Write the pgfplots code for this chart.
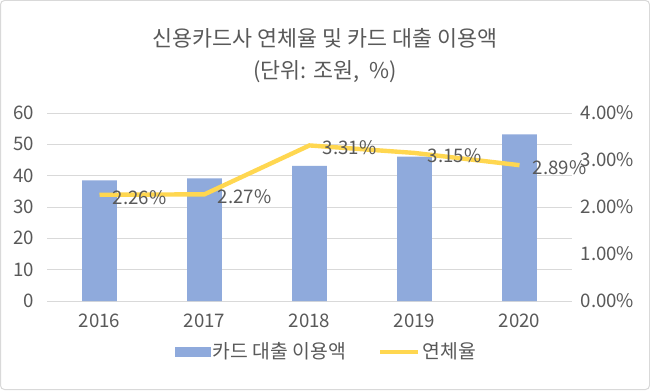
\documentclass[border=0pt]{standalone}
\usepackage{fontspec}
\setmainfont{Noto Sans CJK KR}
\usepackage{pgfplots}
\pgfplotsset{compat=1.18}
\definecolor{barblue}{HTML}{8FAADC}
\definecolor{lineyel}{HTML}{FFD750}
\definecolor{txt}{HTML}{595959}
\definecolor{gridc}{HTML}{D9D9D9}
\begin{document}
\begin{tikzpicture}[x=0.75pt,y=0.75pt]
\draw[gridc, line width=0.75pt, rounded corners=3pt, fill=white] (0.5,0.5) rectangle (649.5,389.5);
\node[txt, font=\fontsize{16.3pt}{19pt}\selectfont] at (325,352) {신용카드사 연체율 및 카드 대출 이용액};
\node[txt, font=\fontsize{16.3pt}{19pt}\selectfont] at (325,318) {(단위: 조원,\ \ \%)};
\begin{axis}[
  at={(35.25pt,66.75pt)}, anchor=south west,
  scale only axis, width=393.75pt, height=141pt,
  xmin=-0.5, xmax=4.5, ymin=0, ymax=60,
  xtick={0,1,2,3,4}, xticklabels={2016,2017,2018,2019,2020},
  ytick={0,10,...,60},
  axis line style={draw=none}, major tick length=0pt,
  ymajorgrids, grid style={gridc, line width=0.75pt},
  tick label style={txt, font=\fontsize{14pt}{16pt}\selectfont},
  /pgf/number format/assume math mode=true,
  yticklabel style={xshift=-6pt},
  xticklabel style={yshift=-6pt},
]
\addplot[ybar, bar width=26pt, fill=barblue, draw=none] coordinates {
  (0,38.5) (1,39.1) (2,43.1) (3,46.1) (4,53.2)};
\end{axis}
\begin{axis}[
  at={(35.25pt,66.75pt)}, anchor=south west,
  scale only axis, width=393.75pt, height=141pt,
  xmin=-0.5, xmax=4.5, ymin=0, ymax=4,
  axis x line=none, axis y line*=right,
  axis line style={draw=none}, major tick length=0pt,
  ytick={0,1,2,3,4},
  yticklabel={\pgfmathprintnumber[fixed,fixed zerofill,precision=2]{\tick}\%},
  tick label style={txt, font=\fontsize{14pt}{16pt}\selectfont},
  /pgf/number format/assume math mode=true,
  yticklabel style={xshift=3pt},
  legend style={at={(0.533,-0.271)}, anchor=center, draw=none, fill=none,
    legend columns=2, font=\fontsize{14.5pt}{16pt}\selectfont, text=txt,
    /tikz/every even column/.append style={column sep=22pt},
    legend cell align=left},
]
\addlegendimage{legend image code/.code={\fill[barblue] (0pt,-3.4pt) rectangle (26pt,3.4pt);}}
\addlegendentry{카드 대출 이용액}
\addplot[lineyel, line width=3.3pt, mark=none,
  legend image code/.code={\draw[lineyel, line width=3.3pt] (0pt,0pt) -- (28pt,0pt);},
  nodes near coords, point meta=explicit symbolic,
  every node near coord/.style={anchor=west, xshift=5pt, yshift=-2pt, txt, font=\fontsize{14pt}{16pt}\selectfont}]
  coordinates {(0,2.26)[2.26\%] (1,2.27)[2.27\%] (2,3.31)[3.31\%] (3,3.15)[3.15\%] (4,2.89)[2.89\%]};
\addlegendentry{연체율}
\end{axis}
\end{tikzpicture}
\end{document}
